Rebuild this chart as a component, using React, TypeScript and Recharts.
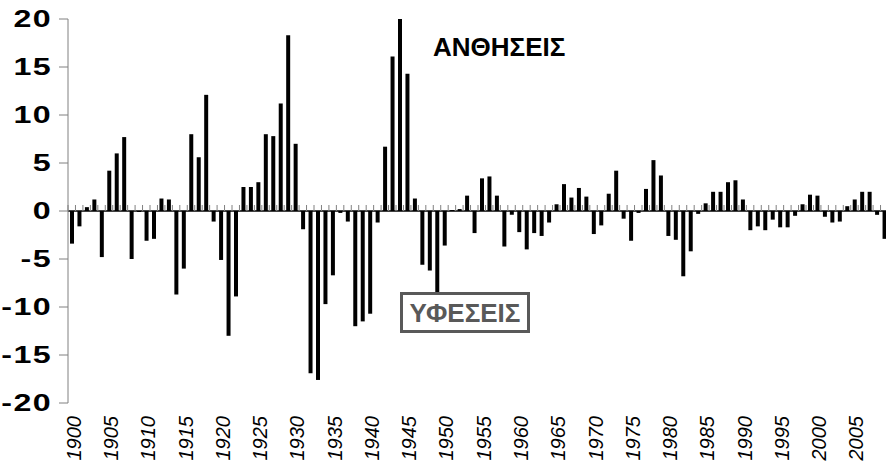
import React from 'react';
import { BarChart, Bar, XAxis, YAxis, ReferenceLine } from 'recharts';

// yearly % change, 1900-2009
const startYear = 1900;
const growth = [
  -3.4, -1.6, 0.4, 1.2, -4.8, 4.2, 6.0, 7.7, -5.0, -0.1, // 1900s
  -3.1, -2.9, 1.3, 1.2, -8.7, -6.0, 8.0, 5.6, 12.1, -1.1, // 1910s
  -5.1, -13.0, -8.9, 2.5, 2.5, 3.0, 8.0, 7.8, 11.2, 18.3, // 1920s
  7.0, -1.9, -16.9, -17.6, -9.7, -6.7, -0.2, -1.1, -12.0, -11.5, // 1930s
  -10.7, -1.2, 6.7, 16.1, 20.0, 14.3, 1.3, -5.6, -6.2, -8.5, // 1940s
  -3.6, 0.1, 0.2, 1.6, -2.3, 3.4, 3.6, 1.6, -3.7, -0.4, // 1950s
  -2.2, -4.0, -2.3, -2.6, -1.2, 0.7, 2.8, 1.4, 2.4, 1.5, // 1960s
  -2.4, -1.5, 1.8, 4.2, -0.8, -3.1, -0.2, 2.3, 5.3, 3.7, // 1970s
  -2.6, -3.0, -6.8, -4.2, -0.3, 0.8, 2.0, 2.0, 3.0, 3.2, // 1980s
  1.2, -2.0, -1.6, -2.0, -0.9, -1.7, -1.7, -0.5, 0.7, 1.7, // 1990s
  1.6, -0.6, -1.2, -1.1, 0.5, 1.2, 2.0, 2.0, -0.4, -2.9, // 2000s
];
const years = growth.map((_, i) => startYear + i);
const yTicks = [-20, -15, -10, -5, 0, 5, 10, 15, 20];

const data = years.map((year, i) => ({ year, value: growth[i] }));

const CHART_W = 888;
const CHART_H = 468;
const TOP = 19;
const LEFT = 68;
const X_AXIS_H = 65;
const PLOT_H = CHART_H - TOP - X_AXIS_H;
const ZERO_Y = TOP + PLOT_H / 2;
const BAND = (CHART_W - LEFT) / years.length;
const FONT = 'Liberation Sans, Arial, sans-serif';

const XTick = (props: any) => {
  const { x, payload } = props;
  const year = payload.value;
  const bx = x - BAND / 2;
  return (
    <g>
      <line x1={bx} x2={bx} y1={ZERO_Y - 6} y2={ZERO_Y} stroke="#808080" />
      {year % 5 === 0 && (
        <text
          transform={`translate(${x + 9}, 416) rotate(-90)`}
          textAnchor="end"
          fontSize={20}
          fontStyle="italic"
          fontFamily={FONT}
          fill="#000"
        >
          {year}
        </text>
      )}
    </g>
  );
};

const YTick = (props: any) => {
  const { y, payload } = props;
  return (
    <text
      transform={`translate(52, ${y}) scale(1.4, 1)`}
      textAnchor="end"
      dy="0.36em"
      fontSize={23}
      fontWeight="bold"
      letterSpacing={1}
      fontFamily={FONT}
      fill="#000"
    >
      {payload.value}
    </text>
  );
};

export default function App() {
  return (
    <div
      style={{
        position: 'absolute',
        left: 0,
        top: 0,
        width: 886,
        height: 468,
        overflow: 'hidden',
        background: '#fff',
      }}
    >
      <BarChart
        width={CHART_W}
        height={CHART_H}
        data={data}
        margin={{ top: TOP, right: 0, bottom: 0, left: 0 }}
      >
        <XAxis
          dataKey="year"
          interval={0}
          height={X_AXIS_H}
          axisLine={false}
          tickLine={false}
          tick={<XTick />}
        />
        <YAxis
          type="number"
          domain={[-20, 20]}
          ticks={yTicks}
          width={LEFT}
          axisLine={{ stroke: '#808080' }}
          tickLine={{ stroke: '#808080' }}
          tickSize={9}
          tick={<YTick />}
        />
        <Bar dataKey="value" fill="#000" barSize={4} isAnimationActive={false} />
        <ReferenceLine y={0} stroke="#000" strokeWidth={1.5} />
      </BarChart>
      <svg
        width={886}
        height={468}
        style={{ position: 'absolute', left: 0, top: 0, pointerEvents: 'none' }}
      >
        <text x={433} y={56} fontSize={26} fontWeight="bold" fontFamily={FONT} fill="#000">
          ΑΝΘΗΣΕΙΣ
        </text>
        <rect x={401.5} y={293.5} width={127} height={38} fill="#fff" stroke="#595959" strokeWidth={3} />
        <text
          x={465}
          y={321.5}
          textAnchor="middle"
          fontSize={26}
          fontWeight="bold"
          fontFamily={FONT}
          fill="#595959"
        >
          ΥΦΕΣΕΙΣ
        </text>
      </svg>
    </div>
  );
}
